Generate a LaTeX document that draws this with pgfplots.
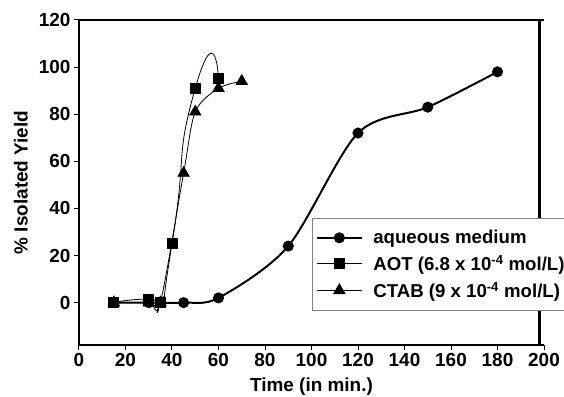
\documentclass[border=0pt]{standalone}
\usepackage{pgfplots}
\pgfplotsset{compat=1.18}
\usepackage{fontspec}
\setmainfont{Liberation Sans}
\begin{document}
\begin{tikzpicture}
\begin{axis}[
 scale only axis, width=465bp, height=325bp,
 xmin=0, xmax=200, ymin=-18, ymax=120,
 axis x line=bottom, axis y line=left,
 axis line style={-, line width=2.5bp},
 xtick={0,20,...,200}, ytick={0,20,...,120},
 tick align=outside, major tick length=5bp,
 tick style={black, line width=1bp},
 /pgf/number format/assume math mode=true,
 ticklabel style={font=\fontsize{19}{21}\selectfont\bfseries},
 xlabel={Time (in min.)}, ylabel={\% Isolated Yield},
 label style={font=\fontsize{19}{21}\selectfont\bfseries},
 xlabel style={at={(axis description cs:0.5,-0.143)}, anchor=base},
 ylabel style={at={(axis description cs:-0.125,0.5)}, anchor=center},
 legend style={at={(0.501,0.391)}, anchor=north west, draw=gray, line width=0.8bp,
   font=\fontsize{18.7}{21}\selectfont\bfseries, inner xsep=4bp, inner ysep=7bp,
   nodes={inner sep=5bp}, row sep=0bp,
   /tikz/every odd column/.append style={column sep=6bp}},
 legend cell align=left,
 legend image code/.code={\draw[mark repeat=2,mark phase=2,#1] plot coordinates {(0bp,0bp)(22bp,0bp)(44bp,0bp)};},
 clip=false,
]
\addplot[black, line width=2bp, smooth, mark=*, mark size=4.5bp, mark options={solid}]
 coordinates {(15,0)(30,0)(45,0)(60,2)(90,24)(120,72)(150,83)(180,98)};
\addlegendentry{aqueous medium}
\addplot[black, line width=0.8bp, smooth, tension=1.6, mark=square*, mark size=5bp]
 coordinates {(15,0)(30,1.5)(35,0)(40,25)(50,91)(60,95)};
\addlegendentry{AOT (6.8 x 10\textsuperscript{-4} mol/L)}
\addplot[black, line width=0.8bp, smooth, mark=triangle*, mark size=6.5bp]
 coordinates {(15,0)(30,0)(35,0)(45,55)(50,81)(60,91)(70,94)};
\addlegendentry{CTAB (9 x 10\textsuperscript{-4} mol/L)}
\draw[line width=2.5bp] (axis cs:0,120) -- (axis cs:200,120);
\draw[line width=2.5bp] (axis cs:198,120) -- (axis cs:198,-18);
\end{axis}
\pgfresetboundingbox
\path ([shift={(-79bp,-52bp)}]current axis.south west) rectangle ([shift={(20bp,20bp)}]current axis.north east);
\end{tikzpicture}
\end{document}
